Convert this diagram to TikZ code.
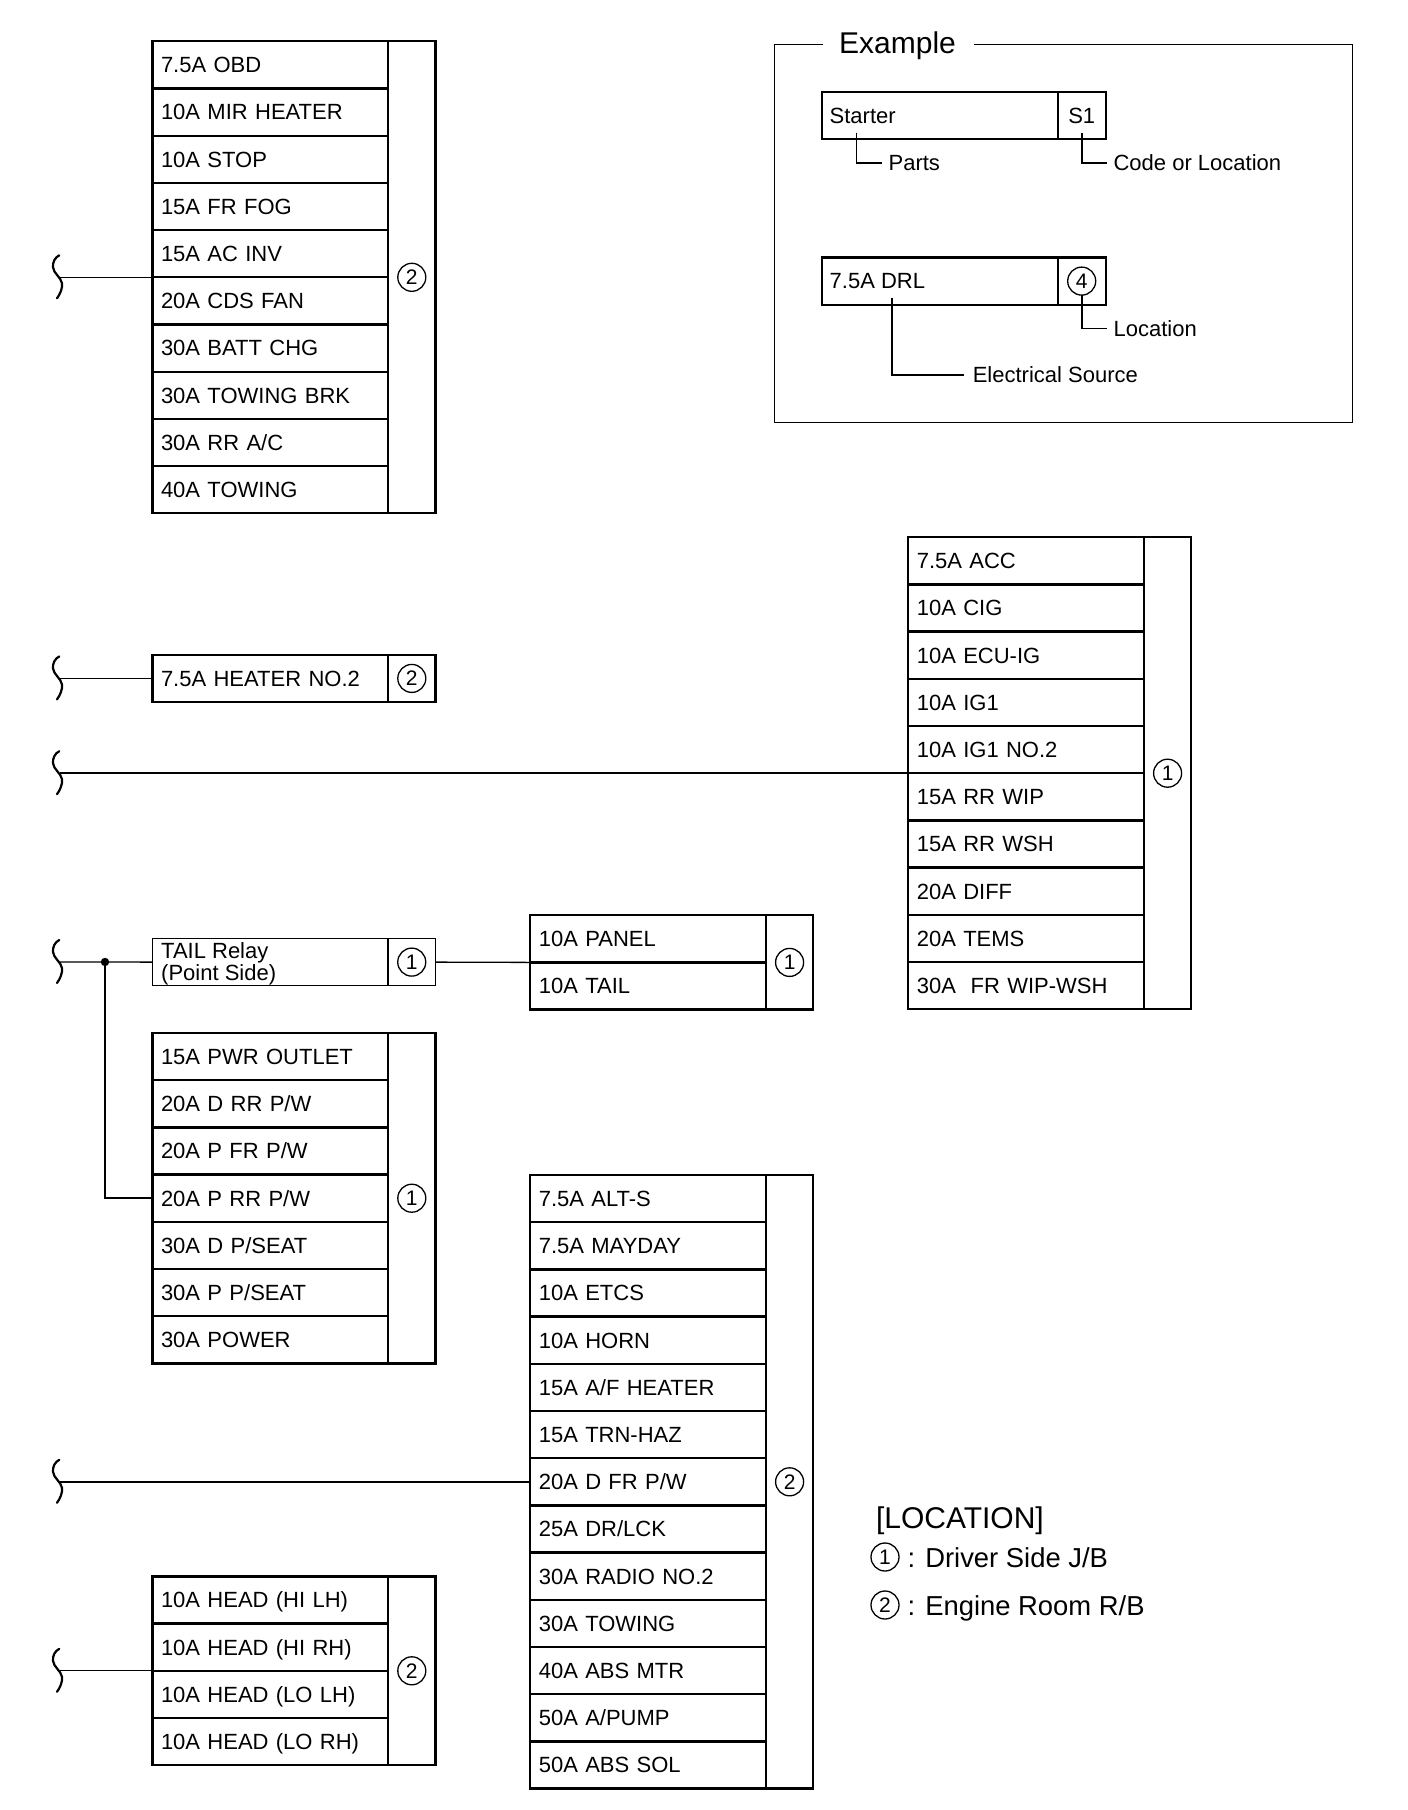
\documentclass[tikz,border=0pt]{standalone}
\usepackage{fontspec}
\setmainfont{Liberation Sans}
\usepackage{tikz}
\usetikzlibrary{positioning,calc}
\tikzset{
  rowbox/.style={draw, line width=2.3pt, minimum width=235.5pt, minimum height=47.2pt,
               inner xsep=8.5pt, inner ysep=0pt, outer sep=0pt, text width=218.5pt, align=left,
               text height=15.6pt, text depth=0pt, anchor=north west,
               font=\fontsize{22}{24}\selectfont},
  frame/.style={draw, line width=2.3pt, minimum width=283pt, inner sep=0pt, outer sep=0pt, anchor=north west},
  circnum/.style={draw, circle, line width=1.3pt, minimum size=28pt, inner sep=0pt, outer sep=0pt,
               font=\fontsize{21}{21}\selectfont},
  wire/.style={line width=1.6pt},
  tag/.style={anchor=west, inner sep=0pt, outer sep=0pt, text height=15.6pt, text depth=0pt,
               font=\fontsize{22}{24}\selectfont},
  legend/.style={anchor=west, inner sep=0pt, outer sep=0pt, text height=19.6pt, text depth=0pt,
               font=\fontsize{27.4}{28}\selectfont},
  partbox/.style={draw, inner sep=0pt, outer sep=0pt, anchor=north west, minimum height=47.2pt},
}
\newcommand{\wirebreak}[1]{%
  \draw[shift={(#1)}, line width=2.2pt, line cap=round] (-0.7,-22)
    .. controls (-5,-20) and (-7.5,-15) .. (-7,-10)
    .. controls (-6.5,-4) and (1,0) .. (2,6)
    .. controls (2.7,11) and (0,17) .. (-3,21);}

\begin{document}
\begin{tikzpicture}[x=1pt,y=-1pt]
\useasboundingbox (0,0) rectangle (1408,1810);
\foreach \nm/\xl/\yt/\n/\loc/\lst in {
  obd/152.5/41.3/10/2/{7.5A OBD,10A MIR HEATER,10A STOP,15A FR FOG,15A AC INV,20A CDS FAN,30A BATT CHG,30A TOWING BRK,30A RR A/C,40A TOWING},
  heater/152.5/654.8/1/2/{7.5A HEATER NO.2},
  acc/908.3/537.2/10/1/{7.5A ACC,10A CIG,10A ECU-IG,10A IG1,10A IG1 NO.2,15A RR WIP,15A RR WSH,20A DIFF,20A TEMS,30A\ \ FR WIP-WSH},
  panel/530.3/915.2/2/1/{10A PANEL,10A TAIL},
  pwr/152.5/1033/7/1/{15A PWR OUTLET,20A D RR P/W,20A P FR P/W,20A P RR P/W,30A D P/SEAT,30A P P/SEAT,30A POWER},
  alt/530.3/1175/13/2/{7.5A ALT-S,7.5A MAYDAY,10A ETCS,10A HORN,15A A/F HEATER,15A TRN-HAZ,20A D FR P/W,25A DR/LCK,30A RADIO NO.2,30A TOWING,40A ABS MTR,50A A/PUMP,50A ABS SOL},
  head/152.5/1576.4/4/2/{10A HEAD (HI LH),10A HEAD (HI RH),10A HEAD (LO LH),10A HEAD (LO RH)}}
{
  \foreach \r [count=\i from 0] in \lst
    \node[rowbox] (\nm-\i) at (\xl,\yt+\i*47.2) {\r};
  \node[frame, minimum height=\n*47.2pt] (\nm) at (\xl,\yt) {};
  \node[circnum] (\nm-loc) at ($(\nm.east)+(-23.7,0)$) {\loc};
}
% tail relay
\node[partbox, line width=1.3pt, minimum width=235.5pt] (tail) at (152.5,938.5) {};
\node[partbox, line width=1.3pt, minimum width=47.5pt] (tail-box) at (388,938.5) {};
\node[circnum] (tail-loc) at (tail-box.center) {1};
\node[anchor=west, align=left, inner sep=0pt, font=\fontsize{22}{22}\selectfont] (tail-text) at (161,964) {TAIL Relay\\(Point Side)};
\coordinate (br-tail) at (60,962);
\fill (105,962) circle (4.2pt) coordinate (dot);
\wirebreak{br-tail}
\draw[wire, line width=1.3pt] (br-tail) -- (tail.west);
\draw[wire, line width=1.3pt] (tail-box.east) -- (panel.west);
\draw[wire, line width=1.9pt] (dot) |- (pwr.west);
% breaks
\foreach \nm/\w in {obd/1.6,heater/1.3,acc/1.6,alt/1.6,head/1.2}{
  \coordinate (br-\nm) at (60,0 |- \nm.west);
  \wirebreak{br-\nm}
  \draw[wire, line width=\w pt] (br-\nm) -- (\nm.west);
}
% example
\draw[line width=1.3pt] (823,44.4) -- (774.4,44.4) |- (1352.5,422.4) |- (974,44.4);
\node[anchor=west, inner sep=0pt, text height=21.5pt, text depth=0pt, font=\fontsize{30}{32}\selectfont] (example) at (839,43) {Example};
\node[partbox, line width=1.6pt, minimum width=236pt] (starter) at (821.7,92) {};
\node[partbox, line width=1.6pt, minimum width=48pt] (s1) at (1057.7,92) {};
\node[tag] (starter-text) at (829.7,115.3) {Starter};
\node[tag, anchor=center] (s1-text) at (s1.center) {S1};
\node[partbox, line width=2.3pt, minimum width=236pt] (drl) at (821.7,257.5) {};
\node[partbox, line width=2.3pt, minimum width=48pt] (drl-box) at (1057.7,257.5) {};
\node[tag] (drl-text) at (829.7,280.8) {7.5A DRL};
\node[circnum, minimum size=28pt] (drl-loc) at (drl-box.center) {4};
\node[tag] (parts) at (888.6,163) {Parts};
\node[tag] (code) at (1113.6,163) {Code or Location};
\node[tag] (location) at (1113.6,328.5) {Location};
\node[tag] (source) at (972.8,375) {Electrical Source};
\coordinate (c-starter) at (856.3,132.5);
\coordinate (c-s1) at (1081.7,132.5);
\coordinate (c-drl) at (892,297.5);
\draw[wire] (c-starter) |- ($(parts.west)+(-7,0)$);
\draw[wire] (c-s1) |- ($(code.west)+(-7,0)$);
\draw[wire] (drl-loc.south) |- ($(location.west)+(-7,0)$);
\draw[wire] (c-drl) |- ($(source.west)+(-9,0)$);
% location
\node[anchor=west, inner sep=0pt, text height=21.5pt, text depth=0pt, font=\fontsize{30}{32}\selectfont] (loc-title) at (875.8,1518) {[LOCATION]};
\node[circnum] (loc-1) at (885,1557) {1};
\node[circnum] (loc-2) at (885,1605) {2};
\node[legend] (loc-1-text) at (907.5,1558) {: Driver Side J/B};
\node[legend] (loc-2-text) at (907.5,1606) {: Engine Room R/B};
\end{tikzpicture}
\end{document}
